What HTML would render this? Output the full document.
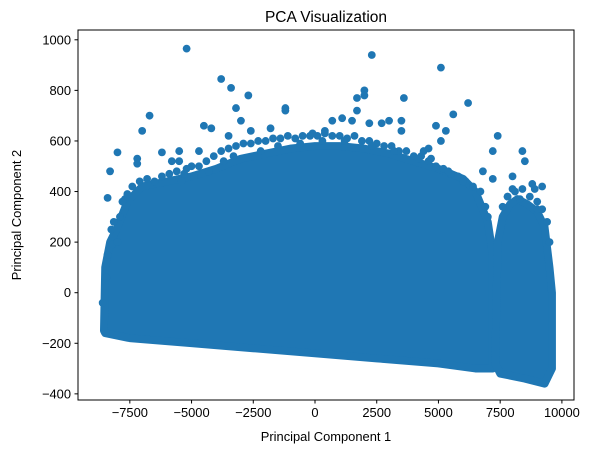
<!DOCTYPE html>
<html><head><meta charset="utf-8"><style>
html,body{margin:0;padding:0;background:#fff;}
svg{display:block;font-family:"Liberation Sans","DejaVu Sans",sans-serif;}
</style></head><body>
<svg id="chart" width="593" height="453" viewBox="0 0 593 453" xmlns="http://www.w3.org/2000/svg">
<rect width="593" height="453" fill="#fff"/>
<text x="326" y="22" font-size="15.5" text-anchor="middle">PCA Visualization</text>
<g id="marks"></g>
<rect x="78" y="30" width="496" height="370" fill="none" stroke="#000" stroke-width="1"/>
<g id="xticks"></g>
<g id="yticks"></g>
<text x="326" y="441" font-size="12.9" text-anchor="middle">Principal Component 1</text>
<text transform="translate(21,215) rotate(-90)" font-size="12.9" text-anchor="middle">Principal Component 2</text>
</svg>
<script>
const xTicks=[-7500,-5000,-2500,0,2500,5000,7500,10000];
const yTicks=[-400,-200,0,200,400,600,800,1000];
// dense cloud envelopes (data coords)
const mainHullX=[-8550,-8500,-8300,-8000,-7600,-7000,-6000,-5000,-4000,-3000,-2000,-1000,0,1000,2000,3000,4000,5000,6000,6500,7000,7200,7200,6500,5000,2500,0,-2500,-5000,-7500,-8500];
const mainHullY=[-150,100,200,260,360,420,440,460,490,530,550,570,580,580,570,550,520,490,450,400,280,150,-300,-300,-280,-260,-240,-220,-200,-180,-160];
const rightHullX=[7400,7600,7900,8200,8600,9000,9300,9500,9600,9600,9300,8500,7500,7300];
const rightHullY=[200,300,350,370,350,320,260,100,0,-300,-360,-340,-320,-280];
// outlying points
const outX=[-5200,2300,5100,-3800,-3400,-6700,-7000,-3200,-2700,-1200,-1200,2000,2000,1700,3600,6200,5600,-4500,-4200,-3000,-1800,-100,400,700,1100,1500,1700,2200,2700,3000,3500,3500,4900,5300,5100,7400,7200,8400,8500,8000,7200,6800,4700,4400,4600,-8000,-8300,-8400,-7200,-7200,-6200,-5500,-5200,-5800,-5500,-4700,-8600,-8200,-8000,9200,8800,8900,-2600,-3500,-7600,-7800,8000,7800,8300,9000];
const outY=[965,940,890,845,810,700,640,730,780,730,720,800,780,770,770,750,705,660,650,680,650,630,640,680,690,680,720,670,670,680,680,640,660,640,600,620,560,560,520,460,450,480,530,560,570,555,480,375,530,510,555,560,490,520,520,560,-40,190,200,420,430,410,640,620,390,360,410,380,370,330];
// ragged-edge points just outside the dense cloud
const edgeX=[-8450,-8400,-8250,-8150,-7900,-7700,-7400,-7100,-6800,-6500,-6200,-5900,-5600,-5300,-5000,-4700,-4400,-4100,-3800,-3500,-3200,-2900,-2600,-2300,-2000,-1700,-1400,-1100,-800,-500,-200,100,400,700,1000,1300,1600,1900,2200,2500,2800,3100,3400,3700,4000,4300,4600,4900,5200,5500,5800,6100,6400,6700,6900,7000,7600,7800,8100,8400,8700,9000,9200,9400,9500,-5400,-4900,-4300,-3700,-3300,-2200,-1500,-600,300,1200,2300,3200,4200,5400,6000];
const edgeY=[60,150,250,280,300,370,420,440,450,440,460,470,480,470,500,500,520,540,560,570,580,590,590,600,600,610,610,620,610,620,620,620,630,620,620,610,620,600,600,590,580,580,560,560,540,540,520,500,490,470,460,440,420,400,340,300,340,380,400,410,380,360,330,280,200,440,460,480,520,540,560,580,590,600,600,580,560,530,480,440];
const X0=315,XS=0.02469,Y0=292.7,YS=0.2529;
const sx=v=>X0+v*XS, sy=v=>Y0-v*YS;
const NS="http://www.w3.org/2000/svg";
const marks=document.getElementById('marks');
const col="#1f77b4";
function hull(xs,ys,name){
  const p=document.createElementNS(NS,'polygon');
  p.setAttribute('points',xs.map((x,i)=>sx(x)+','+sy(ys[i])).join(' '));
  p.setAttribute('fill',col);p.setAttribute('stroke',col);p.setAttribute('stroke-width','7.8');p.setAttribute('stroke-linejoin','round');
  
  
  marks.appendChild(p);
}
hull(mainHullX,mainHullY,'main-point-cloud');
hull(rightHullX,rightHullY,'right-point-cluster');
function dots(xs,ys){
  xs.forEach((x,i)=>{
    const c=document.createElementNS(NS,'circle');
    c.setAttribute('cx',sx(x));c.setAttribute('cy',sy(ys[i]));c.setAttribute('r','3.9');c.setAttribute('fill',col);
    
    
    marks.appendChild(c);
  });
}
dots(edgeX,edgeY);
dots(outX,outY);
const xg=document.getElementById('xticks');
xTicks.forEach(t=>{
  const x=sx(t);
  const l=document.createElementNS(NS,'line');
  l.setAttribute('x1',x);l.setAttribute('x2',x);l.setAttribute('y1',400);l.setAttribute('y2',403.5);l.setAttribute('stroke','#000');
  
  
  xg.appendChild(l);
  const tx=document.createElementNS(NS,'text');
  tx.setAttribute('x',x);tx.setAttribute('y',417);tx.setAttribute('font-size','12.9');tx.setAttribute('text-anchor','middle');
  tx.textContent=(t<0?'\u2212'+(-t):t);
  
  
  xg.appendChild(tx);
});
const yg=document.getElementById('yticks');
yTicks.forEach(t=>{
  const y=sy(t);
  const l=document.createElementNS(NS,'line');
  l.setAttribute('x1',74.5);l.setAttribute('x2',78);l.setAttribute('y1',y);l.setAttribute('y2',y);l.setAttribute('stroke','#000');
  
  
  yg.appendChild(l);
  const tx=document.createElementNS(NS,'text');
  tx.setAttribute('x',71);tx.setAttribute('y',y+4.5);tx.setAttribute('font-size','12.9');tx.setAttribute('text-anchor','end');
  tx.textContent=(t<0?'\u2212'+(-t):t);
  
  
  yg.appendChild(tx);
});
</script>
</body></html>
